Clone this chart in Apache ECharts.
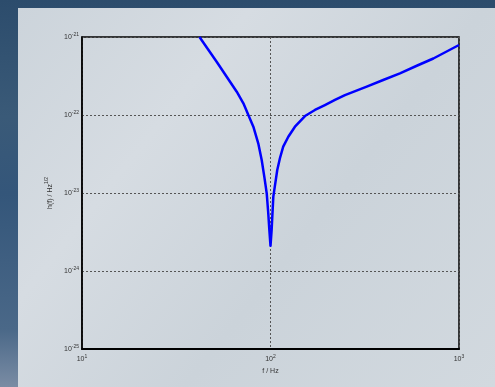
<!DOCTYPE html>
<html>
<head>
<meta charset="utf-8">
<script src="https://cdn.jsdelivr.net/npm/echarts@6/dist/echarts.min.js"></script>
<style>
html,body{margin:0;padding:0;width:495px;height:387px;overflow:hidden;}
#c{width:495px;height:387px;}
</style>
</head>
<body>
<div id="c"></div>
<script>
// Frequency (Hz) and strain amplitude h(f) (Hz^-1/2)
var freqHz = [42, 51.8, 61.0, 66.2, 71.8, 76.3, 81.1, 86.1, 89.8, 92.7, 95.5, 97.3, 98.6, 100,
              101.4, 103.5, 108.6, 112.2, 116.8, 124.3, 134.8, 152.4, 172.1, 194.4, 219.8, 248.3, 324, 396, 486, 597, 731, 1000];
var strain = [1e-21, 4.82e-22, 2.67e-22, 1.99e-22, 1.41e-22, 1.0e-22, 7.08e-23, 4.34e-23, 2.65e-23, 1.62e-23, 9.9e-24, 5.5e-24, 3.36e-24, 2.1e-24,
              3.36e-24, 8.97e-24, 1.97e-23, 2.79e-23, 3.93e-23, 5.27e-23, 7.08e-23, 9.7e-23, 1.16e-22, 1.34e-22, 1.56e-22, 1.80e-22, 2.31e-22, 2.81e-22, 3.42e-22, 4.28e-22, 5.3e-22, 7.9e-22];
var xTicks = [10, 100, 1000];
var yTickExponents = [-25, -24, -23, -22, -21];
var xName = 'f / Hz';
var yName = 'h(f) / Hz';
var yNameSup = '1/2';

// The y scale works in units of 10^-25 (tiny floats break tick rounding); labels show real powers.
var yUnitExp = yTickExponents[0];
var yUnit = Math.pow(10, yUnitExp);
var pts = freqHz.map(function(f, i){ return [f, strain[i] / yUnit]; });
var yTicksScaled = yTickExponents.map(function(e){ return Math.pow(10, e - yUnitExp); });

function expOf(v){ return Math.round(Math.log(v) / Math.LN10); }
var richTick = {
  b: {fontSize: 7, color: '#333', fontFamily: 'Liberation Sans'},
  s: {fontSize: 5, color: '#333', fontFamily: 'Liberation Sans', verticalAlign: 'top', padding: [0,0,5,0]}
};
var gridLine = {show: true, lineStyle: {color: '#555', width: 1, type: [2, 2]}};

var chart = echarts.init(document.getElementById('c'));
chart.setOption({
  animation: false,
  graphic: [
    {type: 'rect', z: -10, shape: {x: 0, y: 0, width: 495, height: 387},
     style: {fill: new echarts.graphic.LinearGradient(0, 0, 0, 1, [
       {offset: 0, color: '#2c4c6c'}, {offset: 0.3, color: '#3a5a78'}, {offset: 0.5, color: '#34567a'},
       {offset: 0.85, color: '#4a6888'}, {offset: 1, color: '#7a8ca4'}])}},
    {type: 'rect', z: -9, shape: {x: 18, y: 8, width: 477, height: 379},
     style: {fill: new echarts.graphic.LinearGradient(0, 0, 1, 1, [
       {offset: 0, color: '#ccd4db'}, {offset: 0.3, color: '#d6dce2'}, {offset: 0.6, color: '#cbd3da'}, {offset: 1, color: '#d2d9df'}])}}
  ],
  grid: {left: 82, right: 36, top: 37, bottom: 38, show: true, borderColor: '#000', borderWidth: 1.5, backgroundColor: 'transparent'},
  xAxis: {
    type: 'log', logBase: 10, min: xTicks[0], max: xTicks[xTicks.length - 1],
    name: xName, nameLocation: 'middle', nameGap: 12,
    nameTextStyle: {fontSize: 7, color: '#333', fontFamily: 'Liberation Sans'},
    axisLine: {show: true, lineStyle: {color: '#000', width: 2}},
    axisTick: {show: false},
    axisLabel: {formatter: function(v){ return '{b|10}{s|' + expOf(v) + '}'; }, rich: richTick, margin: 5, customValues: xTicks},
    splitLine: gridLine
  },
  yAxis: {
    type: 'log', logBase: 10, min: yTicksScaled[0], max: yTicksScaled[yTicksScaled.length - 1],
    name: '{b|' + yName + '}{s|' + yNameSup + '}', nameLocation: 'middle', nameGap: 22, nameRotate: 90,
    nameTextStyle: {rich: richTick},
    axisLine: {show: true, lineStyle: {color: '#000', width: 1.5}},
    axisTick: {show: false},
    axisLabel: {formatter: function(v){ return '{b|10}{s|' + (expOf(v) + yUnitExp) + '}'; }, rich: richTick, margin: 3, customValues: yTicksScaled},
    splitLine: gridLine
  },
  series: [{
    type: 'line', data: pts, showSymbol: false, smooth: false, clip: true,
    lineStyle: {color: '#0000ff', width: 2.5, join: 'round'}
  }]
});
</script>
</body>
</html>
